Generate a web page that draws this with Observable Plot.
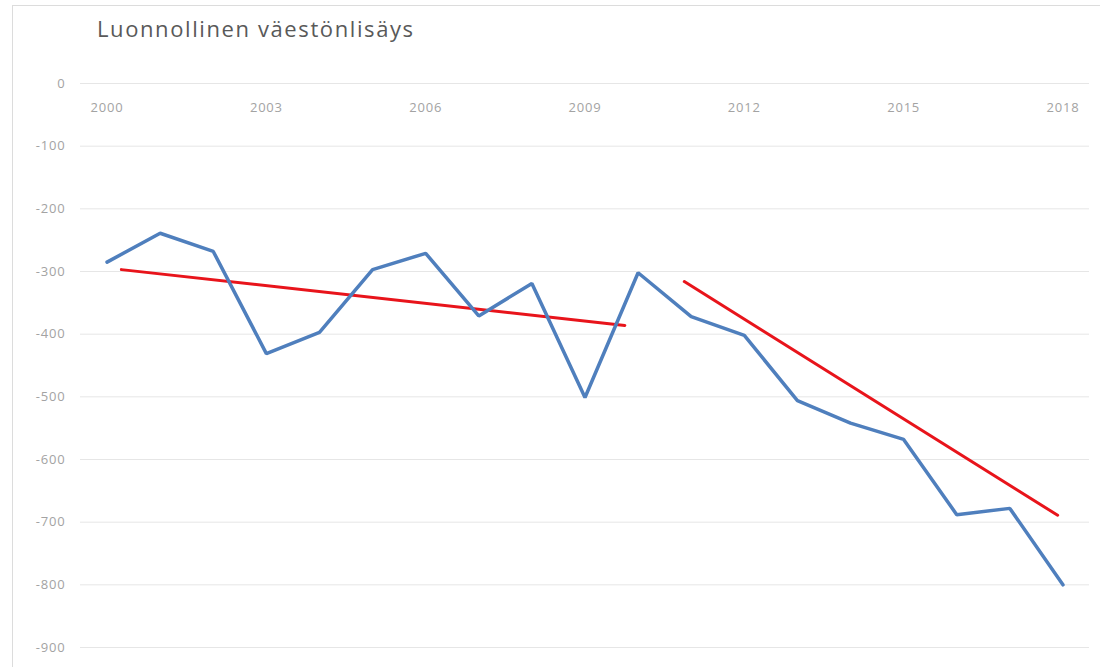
<!DOCTYPE html>
<html>
<head>
<meta charset="utf-8">
<script src="https://cdn.jsdelivr.net/npm/d3@7"></script>
<script src="https://cdn.jsdelivr.net/npm/@observablehq/plot@0.6"></script>
<style>
  html, body { margin: 0; padding: 0; background: #fff; overflow: hidden; }
  #wrap { position: relative; width: 1100px; height: 667px; }
  #frame { position: absolute; left: 12px; top: 5px; width: 1110px; height: 700px; border: 1px solid #dcdcdc; }
  #title { position: absolute; left: 97px; top: 13px; font-family: "Open Sans", sans-serif; font-size: 22px; color: #595959; letter-spacing: 1.6px; }
  #chart { position: absolute; left: 0; top: 50px; }
  #chart text { letter-spacing: 0.8px; }
</style>
</head>
<body>
<div id="wrap">
  <div id="frame"></div>
  <div id="title">Luonnollinen väestönlisäys</div>
  <div id="chart"></div>
</div>
<script>
const years = [2000, 2001, 2002, 2003, 2004, 2005, 2006, 2007, 2008, 2009, 2010, 2011, 2012, 2013, 2014, 2015, 2016, 2017, 2018];
const values = [-285, -239, -268, -431, -397, -297, -271, -371, -319, -501, -302, -372, -402, -506, -542, -568, -688, -678, -800];
const trend1X = [2000.27, 2009.75];
const trend1Y = [-297, -386];
const trend2X = [2010.87, 2017.9];
const trend2Y = [-316, -689];
const xTickYears = [2000, 2003, 2006, 2009, 2012, 2015, 2018];
const yTicks = [0, -100, -200, -300, -400, -500, -600, -700, -800, -900];

const series = years.map((y, i) => ({year: y, value: values[i]}));
const t1 = trend1X.map((x, i) => ({x, y: trend1Y[i]}));
const t2 = trend2X.map((x, i) => ({x, y: trend2Y[i]}));

const chart = Plot.plot({
  width: 1100,
  height: 617,
  marginTop: 33,
  marginBottom: 20,
  marginLeft: 80,
  marginRight: 11,
  style: {fontFamily: "'Open Sans', sans-serif", background: "transparent"},
  x: {domain: [1999.5, 2018.5], axis: null},
  y: {domain: [-900, 0], axis: null},
  marks: [
    Plot.ruleY(yTicks, {stroke: "#e6e6e6", strokeWidth: 1}),
    Plot.axisY({ticks: yTicks, tickSize: 0, tickPadding: 15, tickFormat: d => String(d), fontSize: 13, color: "#a3a3a3"}),
    Plot.text(xTickYears, {x: d => d, y: () => 0, dy: 24, text: d => String(d), fontSize: 13, fill: "#a3a3a3"}),
    Plot.line(t1, {x: "x", y: "y", stroke: "#e8141b", strokeWidth: 3}),
    Plot.line(t2, {x: "x", y: "y", stroke: "#e8141b", strokeWidth: 3}),
    Plot.line(series, {x: "year", y: "value", stroke: "#4f7fbd", strokeWidth: 3.5, strokeLinejoin: "miter"})
  ]
});
document.getElementById("chart").appendChild(chart);
</script>
</body>
</html>
